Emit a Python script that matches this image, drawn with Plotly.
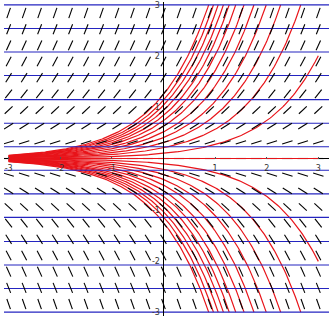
import numpy as np
import plotly.graph_objects as go

# ---- data ----
# slope field dy/dx = y
grid_x = [-3.0, -2.7, -2.4, -2.1, -1.8, -1.5, -1.2, -0.9, -0.6, -0.3, 0.0,
          0.3, 0.6, 0.9, 1.2, 1.5, 1.8, 2.1, 2.4, 2.7, 3.0]
grid_y = [-2.842, -2.526, -2.211, -1.895, -1.579, -1.263, -0.947, -0.632, -0.316, 0.0,
          0.316, 0.632, 0.947, 1.263, 1.579, 1.895, 2.211, 2.526, 2.842]
# blue isoclines
iso_y = [3.0, 2.54, 2.08, 1.62, 1.15, 0.69, 0.23, -0.23, -0.69, -1.15, -1.62,
         -2.08, -2.54, -3.0]
# solution curves y = C*exp(x), C = value at x = 0
curve_c = [0.0, 0.1, 0.21, 0.31, 0.41, 0.52, 0.63, 0.74, 0.84, 0.94, 1.04, 1.14, 1.25,
           -0.1, -0.21, -0.31, -0.41, -0.52, -0.63, -0.74, -0.84, -0.94, -1.04, -1.14, -1.25]
x_start, x_end = -3.0, 3.0
y_limit = 3.0
tick_vals = [-3, -2, -1, 1, 2, 3]
tick_text = ["-3", "-2", "-1", "1", "2", "3"]

xmin, xmax = -3.09, 3.207
ymin, ymax = -3.076, 3.057

fig = go.Figure()

L = 0.105


def segments(rows):
    sx, sy = [], []
    for gy in rows:
        m = gy
        dx = L / np.sqrt(1 + m * m)
        dy = m * dx
        for gx in grid_x:
            sx += [gx - dx, gx + dx, None]
            sy += [gy - dy, gy + dy, None]
    return sx, sy


# horizontal axis line and the flat row of segments (under the curves)
fig.add_trace(go.Scatter(x=[xmin, xmax], y=[0, 0], mode="lines",
                         line=dict(color="black", width=1), hoverinfo="skip"))
zx, zy = segments([g for g in grid_y if g == 0])
fig.add_trace(go.Scatter(x=zx, y=zy, mode="lines",
                         line=dict(color="black", width=1.1), hoverinfo="skip"))

# red solution curves
for c in curve_c:
    xe = x_end if c == 0 else min(x_end, np.log(y_limit / abs(c)))
    xs = np.linspace(x_start, xe, 200)
    fig.add_trace(go.Scatter(x=xs, y=c * np.exp(xs), mode="lines",
                             line=dict(color="#e8141a", width=1.2), hoverinfo="skip"))

# blue horizontal lines
bx, by = [], []
for v in iso_y:
    bx += [xmin, xmax, None]
    by += [v, v, None]
fig.add_trace(go.Scatter(x=bx, y=by, mode="lines",
                         line=dict(color="#2424c0", width=1.1), hoverinfo="skip"))

# slope segments
sx, sy = segments([g for g in grid_y if g != 0])
fig.add_trace(go.Scatter(x=sx, y=sy, mode="lines",
                         line=dict(color="black", width=1.1), hoverinfo="skip"))

font = dict(family="DejaVu Sans", size=8, color="#333333")
fig.update_layout(
    width=332, height=322,
    margin=dict(l=4, r=3, t=2, b=6, pad=0),
    paper_bgcolor="white", plot_bgcolor="white",
    showlegend=False,
    xaxis=dict(range=[xmin, xmax], showgrid=False, zeroline=False,
               anchor="free", position=(0 - ymin) / (ymax - ymin),
               showline=False,
               tickvals=tick_vals, ticktext=tick_text, tickfont=font,
               ticks="inside", ticklen=2, tickcolor="#555555",
               ticklabelstandoff=3, automargin=False),
    yaxis=dict(range=[ymin, ymax], showgrid=False, zeroline=False,
               anchor="free", position=(0 - xmin) / (xmax - xmin),
               showline=True, linecolor="black", linewidth=1,
               tickvals=tick_vals, ticktext=tick_text, tickfont=font,
               ticks="", ticklabelstandoff=2, automargin=False),
)

fig.write_html("out.html")
